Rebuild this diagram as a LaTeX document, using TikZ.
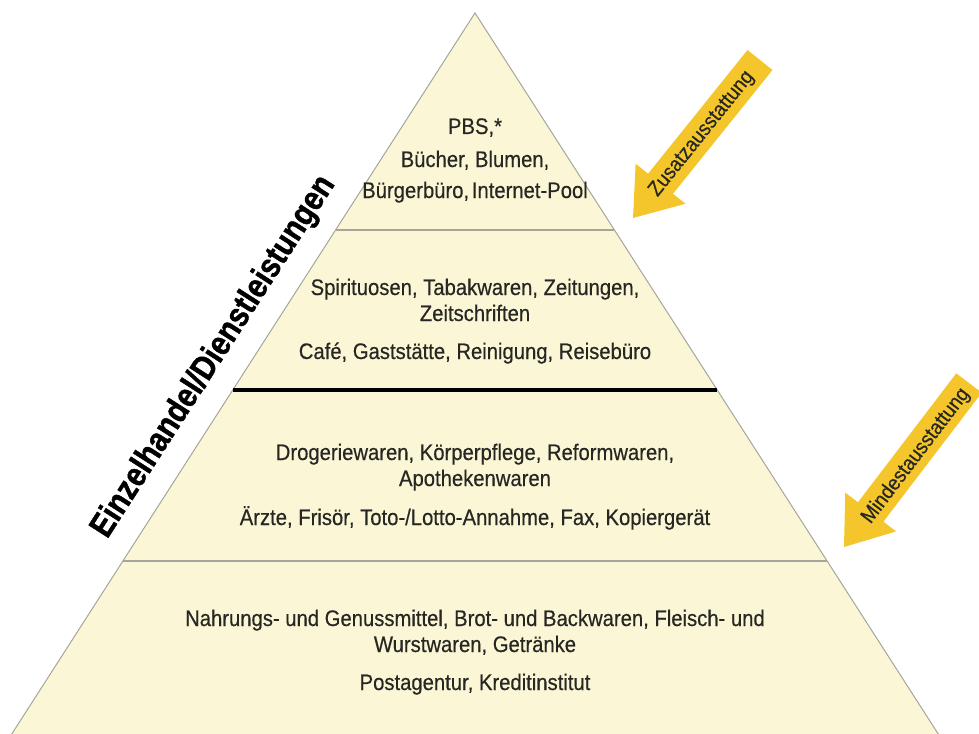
\documentclass[tikz,border=0pt]{standalone}
\usepackage{fontspec}
\setmainfont{Liberation Sans}[FakeStretch=0.9]
\newfontfamily\bodyfont{Liberation Sans}[FakeStretch=0.9, FakeBold=0.4]
\newfontfamily\headfont{Liberation Sans}[FakeStretch=0.86, FakeBold=1.2]
\usetikzlibrary{calc}
\definecolor{pyrfill}{RGB}{251,247,214}
\definecolor{pyredge}{RGB}{165,165,155}
\definecolor{arrowyellow}{RGB}{244,198,44}
\definecolor{txt}{RGB}{38,38,34}
\begin{document}
\begin{tikzpicture}[x=1pt,y=-1pt,
  lbl/.style={text=txt, inner sep=0pt, anchor=base, font=\bodyfont\fontsize{22.5}{26}\selectfont},
  arrowtxt/.style={text=txt, inner sep=0pt, font=\bodyfont\fontsize{21}{24}\selectfont},
  headtxt/.style={text=black, inner sep=0pt, font=\headfont\bfseries\fontsize{34}{38}\selectfont},
  thinrule/.style={draw=pyredge, line width=1.2pt},
  thickrule/.style={draw=black, line width=4pt},
  arrowshape/.style={fill=arrowyellow}]
\useasboundingbox (0,0) rectangle (979,733);
\clip (0,0) rectangle (979,733);
% pyramid
\coordinate (apex) at (475,13);
\coordinate (bl) at (7.9,740);
\coordinate (br) at (942.1,740);
\fill[pyrfill] (apex) -- (bl) -- (br) -- cycle;
\draw[pyredge, line width=1pt] (bl) -- (apex) -- (br);
% tier separators
\coordinate (l1) at ($(apex)!0.2985!(bl)$);
\coordinate (r1) at ($(apex)!0.2985!(br)$);
\coordinate (l2) at ($(apex)!0.5186!(bl)$);
\coordinate (r2) at ($(apex)!0.5186!(br)$);
\coordinate (l3) at ($(apex)!0.7538!(bl)$);
\coordinate (r3) at ($(apex)!0.7538!(br)$);
\draw[thinrule] (l1) -- (r1);
\draw[thickrule] (l2) -- (r2);
\draw[thinrule] (l3) -- (r3);
% tier 1
\node[lbl] (t1a) at (475,134) {PBS,*};
\node[lbl] (t1b) at (475,167) {Bücher, Blumen,};
\node[lbl] (t1c) at (475,198) {Bürgerbüro,\hspace{0.12em}Internet-Pool};
% tier 2
\node[lbl] (t2a) at (475,295) {Spirituosen, Tabakwaren, Zeitungen,};
\node[lbl] (t2b) at (475,321) {Zeitschriften};
\node[lbl] (t2c) at (475,359) {Café, Gaststätte, Reinigung, Reisebüro};
% tier 3
\node[lbl] (t3a) at (475,460) {Drogeriewaren, Körperpflege, Reformwaren,};
\node[lbl] (t3b) at (475,486) {Apothekenwaren};
\node[lbl] (t3c) at (475,525) {Ärzte, Frisör, Toto-/Lotto-Annahme, Fax, Kopiergerät};
% tier 4
\node[lbl] (t4a) at (475,626) {Nahrungs- und Genussmittel, Brot- und Backwaren, Fleisch- und};
\node[lbl] (t4b) at (475,652) {Wurstwaren, Getränke};
\node[lbl] (t4c) at (475,690) {Postagentur, Kreditinstitut};
% heading
\node[headtxt, rotate=57.3] (head) at (214,357) {Einzelhandel/Dienstleistungen};
% arrow Zusatzausstattung
\coordinate (zt) at (633,218);
\coordinate (ze) at (760,60);
\coordinate (zb) at ($(zt)!44pt!(ze)$);
\fill[arrowshape] (zt) -- ($(zb)!32pt!90:(ze)$) -- ($(zb)!16pt!90:(ze)$)
  -- ($(ze)!16pt!-90:(zb)$) -- ($(ze)!16pt!90:(zb)$)
  -- ($(zb)!16pt!-90:(ze)$) -- ($(zb)!32pt!-90:(ze)$) -- cycle;
\node[arrowtxt, rotate=51.2] (ztxt) at (702,134) {Zusatzausstattung};
% arrow Mindestausstattung
\coordinate (mt) at (844,547);
\coordinate (me) at (969,383);
\coordinate (mb) at ($(mt)!44pt!(me)$);
\fill[arrowshape] (mt) -- ($(mb)!32pt!90:(me)$) -- ($(mb)!16pt!90:(me)$)
  -- ($(me)!16pt!-90:(mb)$) -- ($(me)!16pt!90:(mb)$)
  -- ($(mb)!16pt!-90:(me)$) -- ($(mb)!32pt!-90:(me)$) -- cycle;
\node[arrowtxt, rotate=52.7] (mtxt) at (916,456) {Mindestausstattung};
\end{tikzpicture}
\end{document}
